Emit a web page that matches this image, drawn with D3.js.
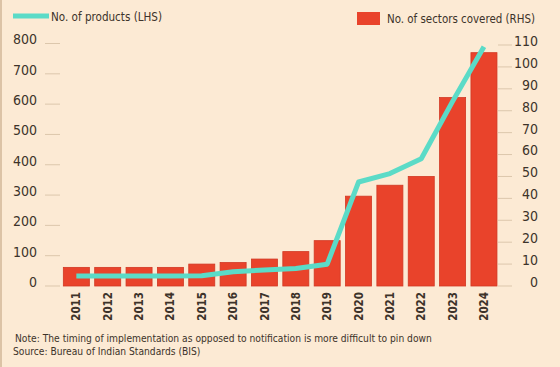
<!DOCTYPE html>
<html>
<head>
<meta charset="utf-8">
<script src="https://cdn.jsdelivr.net/npm/d3@7"></script>
<style>
  html, body { margin: 0; padding: 0; background: #fcead4; }
  svg { display: block; }
  text { font-family: "Liberation Sans Narrow", "DejaVu Sans Condensed", "Roboto", sans-serif; fill: #3d332a; }
</style>
</head>
<body>
<svg id="chart" width="560" height="367"></svg>
<script>
const years = ["2011","2012","2013","2014","2015","2016","2017","2018","2019","2020","2021","2022","2023","2024"];
const products = [33, 33, 33, 33, 34, 47, 53, 58, 72, 343, 371, 420, 609, 789];
const sectors = [8.5, 8.5, 8.5, 8.5, 10, 10.7, 12.3, 15.7, 20.7, 41, 46, 50, 86, 106.5];
const leftTicks = [0, 100, 200, 300, 400, 500, 600, 700, 800];
const rightTicks = [0, 10, 20, 30, 40, 50, 60, 70, 80, 90, 100, 110];
const lineLabel = "No. of products (LHS)";
const barLabel = "No. of sectors covered (RHS)";
const note = "Note: The timing of implementation as opposed to notification is more difficult to pin down";
const source = "Source: Bureau of Indian Standards (BIS)";

const svg = d3.select("#chart");
svg.append("rect").attr("width", 560).attr("height", 367).attr("fill", "#fcead4");
svg.append("rect").attr("x", 0).attr("y", 0).attr("width", 2).attr("height", 367).attr("fill", "#dcc3a6");

const x = d3.scaleBand().domain(years).range([60.2, 500.1]).paddingInner(0.17).paddingOuter(0.1);
const yL = d3.scaleLinear().domain([0, 800]).range([286, 43.5]);
const yR = d3.scaleLinear().domain([0, 110]).range([286, 45]);

// left ticks
const gL = svg.append("g");
gL.selectAll("line").data(leftTicks).join("line")
  .attr("x1", 45).attr("x2", 60)
  .attr("y1", d => yL(d)).attr("y2", d => yL(d))
  .attr("stroke", "#dcc7ac").attr("stroke-width", 1);
gL.selectAll("text").data(leftTicks).join("text")
  .attr("x", 37).attr("y", d => yL(d) - 4)
  .attr("text-anchor", "end").attr("dy", "0.35em")
  .attr("font-size", 14).text(d => d);

// right ticks
const gR = svg.append("g");
gR.selectAll("line").data(rightTicks).join("line")
  .attr("x1", 498).attr("x2", 512)
  .attr("y1", d => yR(d)).attr("y2", d => yR(d))
  .attr("stroke", "#dcc7ac").attr("stroke-width", 1);
gR.selectAll("text").data(rightTicks).join("text")
  .attr("x", 538).attr("y", d => yR(d) - 4)
  .attr("text-anchor", "end").attr("dy", "0.35em")
  .attr("font-size", 14).text(d => d);

// bars
svg.append("g").selectAll("rect").data(years).join("rect")
  .attr("x", d => x(d)).attr("width", x.bandwidth())
  .attr("y", (d, i) => yR(sectors[i]))
  .attr("height", (d, i) => yR(0) - yR(sectors[i]))
  .attr("fill", "#e9432b").attr("stroke", "#d13823").attr("stroke-width", 0.8);

// line
const line = d3.line()
  .x((d, i) => x(years[i]) + x.bandwidth() / 2)
  .y(d => yL(d));
svg.append("path").datum(products)
  .attr("d", line).attr("fill", "none")
  .attr("stroke", "#5bdbc7").attr("stroke-width", 5)
  .attr("stroke-linejoin", "round");

// x labels
svg.append("g").selectAll("text").data(years).join("text")
  .attr("transform", d => `translate(${x(d) + x.bandwidth() / 2},292) rotate(-90)`)
  .attr("text-anchor", "end").attr("dy", "0.35em")
  .attr("font-size", 11.5).attr("font-weight", "bold").text(d => d);

// legend
svg.append("line").attr("x1", 13).attr("x2", 49).attr("y1", 16).attr("y2", 16)
  .attr("stroke", "#5bdbc7").attr("stroke-width", 5);
svg.append("text").attr("x", 51).attr("y", 17).attr("dy", "0.35em")
  .attr("font-size", 12.5).attr("textLength", 111).attr("lengthAdjust", "spacingAndGlyphs")
  .text(lineLabel);
svg.append("rect").attr("x", 357).attr("y", 12).attr("width", 23).attr("height", 13)
  .attr("fill", "#e9432b");
svg.append("text").attr("x", 387).attr("y", 19).attr("dy", "0.35em")
  .attr("font-size", 12.5).attr("textLength", 148).attr("lengthAdjust", "spacingAndGlyphs")
  .text(barLabel);

// footnotes
svg.append("text").attr("x", 15).attr("y", 338).attr("dy", "0.35em")
  .attr("font-size", 10.2).attr("fill", "#4a4038").text(note);
svg.append("text").attr("x", 13).attr("y", 351).attr("dy", "0.35em")
  .attr("font-size", 10.2).attr("fill", "#4a4038").text(source);
</script>
</body>
</html>
